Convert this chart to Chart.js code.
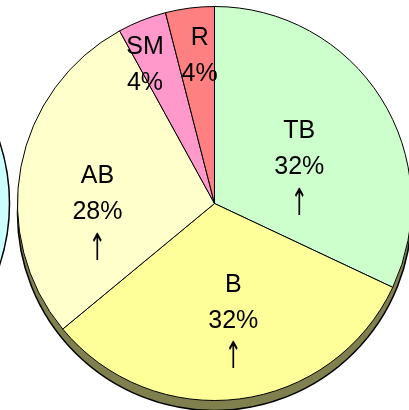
<!DOCTYPE html>
<html>
<head>
<meta charset="utf-8">
<script src="https://cdn.jsdelivr.net/npm/chart.js@4"></script>
<style>
    html, body { margin: 0; padding: 0; background: #fff; overflow: hidden; }
    #wrap { position: absolute; left: 0; top: 0; width: 430px; height: 410px; }
</style>
</head>
<body>
<div id="wrap"><canvas id="pieChart"></canvas></div>
<script>
// slice data, clockwise from 12 o'clock
var categories = ['TB', 'B', 'AB', 'SM', 'R'];
var shares = [32, 32, 28, 4, 4];
var arrowMarks = [true, true, true, false, false];
var sliceColors = ['#ccffcc', '#ffff99', '#ffffcc', '#ff99cc', '#ff8080'];

// label nudges (px) from the 0.6r point on each slice's mid angle
var labelNudge = [[-15, 27], [4, 0], [-1, 31], [-26, -28], [0, -30]];

var pieBackdrop = {
    id: 'pieBackdrop',
    beforeDatasetsDraw: function (chart) {
        var arc = chart.getDatasetMeta(0).data[0];
        if (!arc) return;
        var ctx = chart.ctx;
        var r = arc.outerRadius;
        ctx.save();
        ctx.lineWidth = 1.5;
        ctx.strokeStyle = '#000';
        // neighbouring pie, mostly off the left edge
        ctx.beginPath();
        ctx.arc(arc.x - 2 * r - 8, arc.y, r, 0, Math.PI * 2);
        ctx.fillStyle = '#ccffff';
        ctx.fill();
        ctx.stroke();
        // thickness / shadow under the pie
        ctx.beginPath();
        ctx.arc(arc.x, arc.y + 10, r, 0, Math.PI * 2);
        ctx.fillStyle = '#80804f';
        ctx.fill();
        ctx.stroke();
        ctx.restore();
    }
};

var sliceLabels = {
    id: 'sliceLabels',
    afterDatasetsDraw: function (chart) {
        var ctx = chart.ctx;
        var total = shares.reduce(function (a, b) { return a + b; }, 0);
        ctx.save();
        ctx.fillStyle = '#000';
        ctx.textAlign = 'center';
        ctx.textBaseline = 'middle';
        chart.getDatasetMeta(0).data.forEach(function (arc, i) {
            var mid = (arc.startAngle + arc.endAngle) / 2;
            var d = arc.outerRadius * 0.6;
            var x = arc.x + Math.cos(mid) * d + labelNudge[i][0];
            var y = arc.y + Math.sin(mid) * d + labelNudge[i][1];
            var lines = [categories[i], Math.round(shares[i] / total * 100) + '%'];
            if (arrowMarks[i]) lines.push('\u2191');
            var pitch = 36;
            var y0 = y - (lines.length - 1) * pitch / 2;
            lines.forEach(function (t, k) {
                if (t === '\u2191') {
                    // thin, tall arrow glyph
                    ctx.save();
                    ctx.translate(x, y0 + k * pitch + 2);
                    ctx.scale(0.85, 1.55);
                    ctx.font = '24px "DejaVu Sans", sans-serif';
                    ctx.fillText(t, 0, 0);
                    ctx.restore();
                } else {
                    ctx.font = '25px "Liberation Sans", Arial, sans-serif';
                    ctx.fillText(t, x, y0 + k * pitch);
                }
            });
        });
        ctx.restore();
    }
};

var ctx = document.getElementById('pieChart');
var myPie = new Chart(ctx, {
    type: 'pie',
    data: {
        labels: categories,
        datasets: [{
            data: shares,
            backgroundColor: sliceColors,
            borderColor: '#000',
            borderWidth: 1
        }]
    },
    options: {
        responsive: true,
        maintainAspectRatio: false,
        animation: false,
        layout: { padding: { top: 6, bottom: 9, left: 17, right: 18 } },
        plugins: {
            legend: { display: false },
            tooltip: { enabled: false }
        }
    },
    plugins: [pieBackdrop, sliceLabels]
});
</script>
</body>
</html>
